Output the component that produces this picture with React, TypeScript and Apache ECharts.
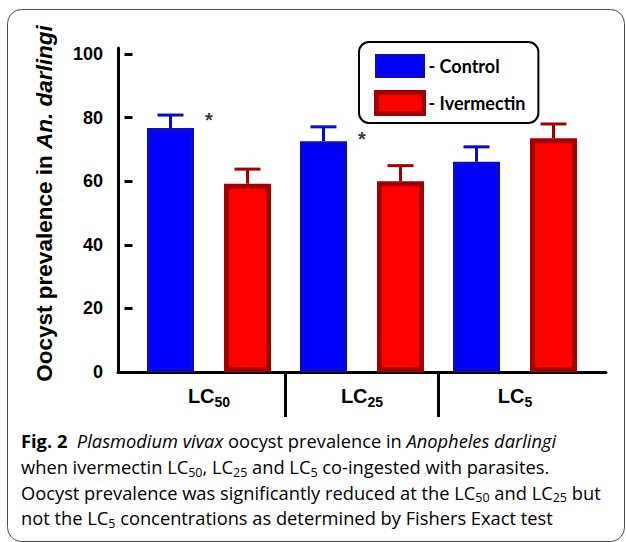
import React, { useEffect, useRef } from "react";
import * as echarts from "echarts";

// ---- data ----
const categories = ["LC50", "LC25", "LC5"];
const categorySubscripts = ["50", "25", "5"];
const controlValues = [76.7, 72.6, 66.1];
const controlErrors = [4.1, 4.5, 4.7];
const ivermectinValues = [59.2, 60.0, 73.5];
const ivermectinErrors = [4.6, 4.9, 4.5];
const significanceMarks = [79.2, 73.3, null];
const yMin = 0;
const yMax = 100;
const yInterval = 20;

const captionLines = [
  "{b|Fig. 2}{r|  }{i|Plasmodium vivax}{r| oocyst prevalence in }{i|Anopheles darlingi}",
  "{r|when ivermectin LC}{s|50}{r|, LC}{s|25}{r| and LC}{s|5}{r| co-ingested with parasites.}",
  "{r|Oocyst prevalence was significantly reduced at the LC}{s|50}{r| and LC}{s|25}{r| but}",
  "{r|not the LC}{s|5}{r| concentrations as determined by Fishers Exact test}",
];

// ---- styles ----
const BAR_W = 47;
const BAR_BORDER = 4;
const GAP_PX = 30;
const HALF_OFFSET = (BAR_W + GAP_PX) / 2;
const BLUE = "#0000FF";
const BLUE_DARK = "#0A0ACC";
const RED = "#FF0000";
const RED_DARK = "#A00000";
const AXIS_FONT = "Liberation Sans";
const CAPTION_FONT = "Open Sans";
const CAPTION_COLOR = "#231F20";
const CAPTION_SIZE = 18.3;

function errorSeries(name: string, values: number[], errors: number[], sign: number, color: string) {
  return {
    type: "custom",
    name,
    xAxisIndex: 0,
    yAxisIndex: 0,
    silent: true,
    z: 3,
    data: values.map((v, i) => [i, v, errors[i]]),
    encode: { x: 0, y: 1 },
    renderItem: (params: any, api: any) => {
      const idx = api.value(0);
      const v = api.value(1);
      const e = api.value(2);
      const base = api.coord([idx, v]);
      const top = api.coord([idx, v + e]);
      const x = base[0] + sign * HALF_OFFSET;
      return {
        type: "group",
        children: [
          { type: "line", shape: { x1: x, y1: base[1], x2: x, y2: top[1] }, style: { stroke: color, lineWidth: 3 } },
          { type: "line", shape: { x1: x - 13, y1: top[1], x2: x + 13, y2: top[1] }, style: { stroke: color, lineWidth: 3 } },
        ],
      };
    },
  };
}

export default function App() {
  const ref = useRef<HTMLDivElement>(null);
  useEffect(() => {
    if (!ref.current) return;
    const chart = echarts.init(ref.current, null, { renderer: "svg" });
    const captionRich = {
      r: { fontFamily: CAPTION_FONT, fontSize: CAPTION_SIZE, color: CAPTION_COLOR, lineHeight: 24 },
      i: { fontFamily: CAPTION_FONT, fontSize: CAPTION_SIZE, fontStyle: "italic", color: CAPTION_COLOR, lineHeight: 24 },
      b: { fontFamily: CAPTION_FONT, fontSize: CAPTION_SIZE, fontWeight: "bold", color: CAPTION_COLOR, lineHeight: 24 },
      s: { fontFamily: CAPTION_FONT, fontSize: 12.5, color: CAPTION_COLOR, lineHeight: 12, verticalAlign: "bottom" },
    };
    const captionY = [440.5, 466.5, 492, 517.5];
    const option: any = {
      animation: false,
      backgroundColor: "#fff",
      grid: [
        { left: 132.5, right: 34.5, top: 54, bottom: 170 },
        { left: 118, right: 20, top: 48, bottom: 170 },
      ],
      xAxis: [
        {
          type: "category",
          gridIndex: 0,
          data: categories,
          position: "bottom",
          axisLine: { show: false },
          axisTick: { show: false },
          axisLabel: {
            margin: 11,
            formatter: (_v: string, i: number) => `{a|LC}{b|${categorySubscripts[i]}}`,
            rich: {
              a: { fontFamily: AXIS_FONT, fontSize: 20, fontWeight: "bold", color: "#000", lineHeight: 26 },
              b: { fontFamily: AXIS_FONT, fontSize: 14, fontWeight: "bold", color: "#000", lineHeight: 14, verticalAlign: "bottom" },
            },
          },
        },
        {
          type: "value",
          gridIndex: 0,
          position: "bottom",
          min: 0,
          max: 3,
          axisLine: { show: false },
          axisLabel: { show: false },
          splitLine: { show: false },
          axisTick: { show: true, length: 45, customValues: [1, 2], lineStyle: { color: "#000", width: 3 } },
        },
        {
          type: "value",
          gridIndex: 1,
          position: "bottom",
          min: 0,
          max: 1,
          axisLine: { show: true, lineStyle: { color: "#000", width: 3 } },
          axisLabel: { show: false },
          axisTick: { show: false },
          splitLine: { show: false },
        },
      ],
      yAxis: [
        {
          type: "value",
          gridIndex: 0,
          min: yMin,
          max: yMax,
          interval: yInterval,
          offset: 14.5,
          axisLine: { show: false },
          axisTick: { show: true, length: 8, lineStyle: { color: "#000", width: 3 } },
          axisLabel: { margin: 15, fontFamily: AXIS_FONT, fontSize: 18, fontWeight: "bold", color: "#000" },
          splitLine: { show: false },
        },
        {
          type: "value",
          gridIndex: 1,
          min: 0,
          max: 1,
          axisLine: { show: true, lineStyle: { color: "#000", width: 3 } },
          axisLabel: { show: false },
          axisTick: { show: false },
          splitLine: { show: false },
        },
      ],
      legend: {
        left: 359,
        top: 42,
        orient: "vertical",
        icon: "rect",
        itemWidth: 47,
        itemHeight: 21,
        itemGap: 12,
        padding: [12, 13, 7, 15],
        borderColor: "#000",
        borderWidth: 2,
        borderRadius: 10,
        selectedMode: false,
        formatter: "- {name}",
        textStyle: { fontFamily: "Lato", fontWeight: "bold", fontSize: 18, color: "#000" },
        data: [
          { name: "Control", itemStyle: { color: BLUE, borderColor: BLUE_DARK, borderWidth: 3 } },
          { name: "Ivermectin", itemStyle: { color: RED, borderColor: RED_DARK, borderWidth: 5 } },
        ],
      },
      series: [
        {
          type: "bar",
          name: "Control",
          xAxisIndex: 0,
          yAxisIndex: 0,
          data: controlValues,
          barWidth: BAR_W,
          barGap: `${(GAP_PX / BAR_W) * 100}%`,
          itemStyle: { color: BLUE, borderColor: BLUE_DARK, borderWidth: BAR_BORDER },
          z: 2,
        },
        {
          type: "bar",
          name: "Ivermectin",
          xAxisIndex: 0,
          yAxisIndex: 0,
          data: ivermectinValues,
          barWidth: BAR_W,
          barGap: `${(GAP_PX / BAR_W) * 100}%`,
          itemStyle: { color: RED, borderColor: RED_DARK, borderWidth: BAR_BORDER + 1 },
          z: 2,
        },
        errorSeries("Control SEM", controlValues, controlErrors, -1, BLUE_DARK),
        errorSeries("Ivermectin SEM", ivermectinValues, ivermectinErrors, 1, RED_DARK),
        {
          type: "scatter",
          name: "significance",
          xAxisIndex: 0,
          yAxisIndex: 0,
          silent: true,
          symbolSize: 1,
          itemStyle: { color: "rgba(0,0,0,0)" },
          data: significanceMarks
            .map((v, i) => (v == null ? null : [i, v]))
            .filter((d) => d != null),
          label: {
            show: true,
            position: "inside",
            formatter: "*",
            fontFamily: AXIS_FONT,
            fontSize: 20,
            fontWeight: "bold",
            color: "#000",
          },
          z: 5,
        },
      ],
      graphic: [
        {
          type: "rect",
          silent: true,
          z: -10,
          shape: { x: 7.5, y: 9.5, width: 617, height: 532, r: 14 },
          style: { fill: "none", stroke: "#4a4a4a", lineWidth: 1 },
        },
        {
          type: "text",
          silent: true,
          x: 44,
          y: 203.5,
          rotation: Math.PI / 2,
          style: {
            text: "{a|Oocyst prevalence in }{b|An. darlingi}",
            align: "center",
            verticalAlign: "middle",
            rich: {
              a: { fontFamily: AXIS_FONT, fontSize: 22.5, fontWeight: "bold", fill: "#000" },
              b: { fontFamily: AXIS_FONT, fontSize: 22.5, fontWeight: "bold", fontStyle: "italic", fill: "#000" },
            },
          },
        },
        ...captionLines.map((t, i) => ({
          type: "text",
          silent: true,
          x: 21,
          y: captionY[i],
          style: { text: t, align: "left", verticalAlign: "middle", rich: captionRich },
        })),
      ],
    };
    chart.setOption(option);
    return () => chart.dispose();
  }, []);
  return (
    <div
      ref={ref}
      style={{ position: "absolute", left: 0, top: 0, width: 626, height: 542 }}
    />
  );
}
